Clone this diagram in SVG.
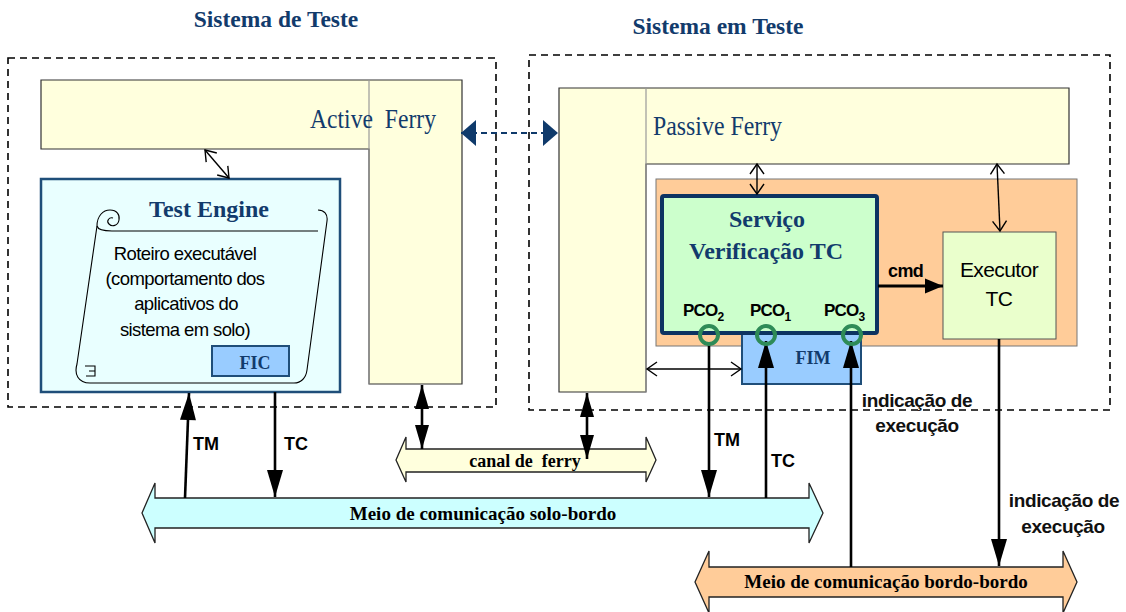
<svg xmlns="http://www.w3.org/2000/svg" width="1126" height="612" viewBox="0 0 1126 612">
<style>
.dash{fill:none;stroke:#000;stroke-width:1.6;stroke-dasharray:7 5}
.ferry{fill:#FFFFDD;stroke:#333;stroke-width:1.2}
.div{stroke:#999;stroke-width:1.2}
.ser{font-family:"Liberation Serif","Times New Roman",serif}
.sans{font-family:"Liberation Sans",Arial,sans-serif}
.blue{fill:#123B6C}
.bt{font-weight:bold}
.lbl{font-family:"Liberation Sans",Arial,sans-serif;font-weight:bold;font-size:18px;fill:#000}
.ind{font-family:"Liberation Sans",Arial,sans-serif;font-weight:bold;font-size:19px;letter-spacing:-0.4px;fill:#111;text-anchor:middle}
.thin{fill:none;stroke:#000;stroke-width:1.4;marker-start:url(#vh);marker-end:url(#vh)}
.thick{fill:none;stroke:#000;stroke-width:2.6}
.pco{fill:none;stroke:#2E8B57;stroke-width:4}
.bar{stroke:#222;stroke-width:1.3}
</style>
<defs>
<marker id="vh" markerUnits="userSpaceOnUse" markerWidth="12" markerHeight="16" refX="10" refY="7" orient="auto-start-reverse" overflow="visible"><path d="M0,0 L10,7 L0,14" fill="none" stroke="#000" stroke-width="1.4"/></marker>
<marker id="bh" markerUnits="userSpaceOnUse" markerWidth="28" markerHeight="18" refX="27" refY="8" orient="auto-start-reverse" overflow="visible"><path d="M0,0 L27,8 L0,16 z" fill="#000"/></marker>
<marker id="mh" markerUnits="userSpaceOnUse" markerWidth="26" markerHeight="16" refX="24" refY="7" orient="auto-start-reverse" overflow="visible"><path d="M0,0 L24,7 L0,14 z" fill="#000"/></marker>
<marker id="ch" markerUnits="userSpaceOnUse" markerWidth="20" markerHeight="16" refX="18" refY="7.5" orient="auto" overflow="visible"><path d="M0,0 L18,7.5 L0,15 z" fill="#000"/></marker>
<marker id="blh" markerUnits="userSpaceOnUse" markerWidth="16" markerHeight="28" refX="15" refY="13" orient="auto-start-reverse" overflow="visible"><path d="M0,0 L15,13 L0,26 z" fill="#0F3A6B"/></marker>
</defs>
<rect width="1126" height="612" fill="#fff"/>

<g id="titles">
<text class="ser bt blue" x="276" y="27" font-size="23.5" text-anchor="middle">Sistema de Teste</text>
<text class="ser bt blue" x="718" y="34" font-size="23.5" text-anchor="middle">Sistema em Teste</text>
</g>

<g id="sistema-de-teste">
<rect class="dash" x="8" y="58" width="488" height="349"/>
</g>
<g id="sistema-em-teste">
<rect class="dash" x="529" y="55" width="581" height="355"/>
</g>

<g id="active-ferry">
<polygon class="ferry" points="41,80 462,80 462,384 369,384 369,149 41,149"/>
<line class="div" x1="369" y1="80" x2="369" y2="384"/>
<text class="ser blue" x="310" y="128" font-size="27" textLength="126" lengthAdjust="spacingAndGlyphs" xml:space="preserve">Active  Ferry</text>
</g>

<g id="passive-ferry">
<polygon class="ferry" points="559,88 1069,88 1069,164 646,164 646,392 559,392"/>
<line class="div" x1="646" y1="88" x2="646" y2="392"/>
<text class="ser blue" x="653" y="135" font-size="27" textLength="129" lengthAdjust="spacingAndGlyphs">Passive Ferry</text>
</g>

<g id="test-engine">
<rect x="41" y="179" width="299" height="213" fill="#E9FFFF" stroke="#1F4E79" stroke-width="2.5"/>
<g fill="none" stroke="#000" stroke-width="1.1">
<path d="M97,226 C97,216 103,210 110,210 C117,210 120,215 119,220 C118,226 112,227 109,224 C106,221 109,217 113,218"/>
<path d="M97,226 C98,230 104,231 112,231 L318,231"/>
<path d="M318,210 C324,210 328,214 327,221 L307,370 C306,378 301,383 294,383 L90,383 C78,383 74,374 77,364 L97,226"/>
<path d="M85,366 L95,366 L95,376 L86,376 M89,371 L95,371"/>
</g>
<text class="ser bt blue" x="209" y="217" font-size="24" text-anchor="middle">Test Engine</text>
<g class="sans" font-size="18.5" letter-spacing="-0.6" text-anchor="middle" fill="#000">
<text x="185" y="260">Roteiro executável</text>
<text x="185" y="285">(comportamento dos</text>
<text x="186" y="310">aplicativos do</text>
<text x="185" y="336">sistema em solo)</text>
</g>
</g>

<g id="fic">
<rect x="212" y="346" width="77" height="30" fill="#99CCFF" stroke="#1F4E79" stroke-width="2"/>
<text class="ser bt blue" x="255" y="369" font-size="18" text-anchor="middle">FIC</text>
</g>

<g id="container-bordo">
<rect x="656" y="179" width="421" height="167" fill="#FFCC99" stroke="#777" stroke-width="1"/>
</g>

<g id="executor-tc">
<rect x="943" y="232" width="113" height="107" fill="#EAFFCC" stroke="#555" stroke-width="1"/>
<text class="sans" x="999" y="277" font-size="21" letter-spacing="-0.6" text-anchor="middle">Executor</text>
<text class="sans" x="999" y="306" font-size="21" letter-spacing="-0.6" text-anchor="middle">TC</text>
</g>

<g id="fim">
<rect x="742" y="330" width="119" height="54" fill="#99CCFF" stroke="#1F4E79" stroke-width="2"/>
<text class="ser bt blue" x="813" y="364" font-size="18" text-anchor="middle">FIM</text>
</g>

<g id="servico-verificacao-tc">
<rect x="662" y="196" width="215" height="137" rx="2" fill="#CCFFCC" stroke="#0D3361" stroke-width="4"/>
<text class="ser bt blue" x="767" y="227" font-size="24" text-anchor="middle">Serviço</text>
<text class="ser bt blue" x="766" y="259" font-size="24" text-anchor="middle">Verificação TC</text>
<g class="sans bt" font-size="17" letter-spacing="-0.8">
<text x="683" y="316">PCO<tspan font-size="12" dy="5" letter-spacing="0">2</tspan></text>
<text x="750" y="316">PCO<tspan font-size="12" dy="5" letter-spacing="0">1</tspan></text>
<text x="824" y="316">PCO<tspan font-size="12" dy="5" letter-spacing="0">3</tspan></text>
</g>
</g>

<g id="canal-de-ferry">
<path class="bar" fill="#FFFFDD" d="M396,460 L406,437 L406,449 L646,449 L646,437 L656,460 L646,482 L646,472 L406,472 L406,482 Z"/>
<text class="ser bt" x="525" y="467" font-size="18" text-anchor="middle" xml:space="preserve">canal de  ferry</text>
</g>

<g id="meio-solo-bordo">
<path class="bar" fill="#CCFFFF" d="M142,513 L155,483 L155,498 L809,498 L809,483 L823,513 L809,543 L809,528 L155,528 L155,543 Z"/>
<text class="ser bt" x="483" y="520" font-size="19" text-anchor="middle">Meio de comunicação solo-bordo</text>
</g>

<g id="meio-bordo-bordo">
<path class="bar" fill="#FFCC99" d="M695,582 L709,551 L709,567 L1063,567 L1063,551 L1077,582 L1063,613 L1063,597 L709,597 L709,613 Z"/>
<text class="ser bt" x="886" y="588" font-size="19" text-anchor="middle">Meio de comunicação bordo-bordo</text>
</g>

<g id="connectors">
<line x1="461" y1="133" x2="558" y2="133" stroke="#0F3A6B" stroke-width="2" stroke-dasharray="6 4" marker-start="url(#blh)" marker-end="url(#blh)"/>
<line class="thin" x1="205" y1="150" x2="229" y2="178"/>
<line class="thin" x1="757" y1="164" x2="757" y2="194"/>
<line class="thin" x1="997" y1="164" x2="1000" y2="231"/>
<line class="thin" x1="647" y1="369" x2="741" y2="369"/>
<line class="thick" x1="185" y1="498" x2="189" y2="393" marker-end="url(#bh)"/>
<line class="thick" x1="275" y1="392" x2="275" y2="497" marker-end="url(#bh)"/>
<line class="thick" x1="422" y1="385" x2="422" y2="449" marker-start="url(#mh)" marker-end="url(#mh)"/>
<line class="thick" x1="587" y1="393" x2="587" y2="459" marker-start="url(#mh)" marker-end="url(#mh)"/>
<line x1="878" y1="286" x2="943" y2="286" stroke="#000" stroke-width="3.2" marker-end="url(#ch)"/>
<line class="thick" x1="709" y1="344" x2="709" y2="497" marker-end="url(#bh)"/>
<line class="thick" x1="766" y1="498" x2="766" y2="341" marker-end="url(#bh)"/>
<line class="thick" x1="851" y1="567" x2="851" y2="341" marker-end="url(#bh)"/>
<line class="thick" x1="999" y1="339" x2="999" y2="566" marker-end="url(#bh)"/>
</g>

<g id="pcos">
<circle class="pco" cx="709" cy="335" r="9"/>
<circle class="pco" cx="766" cy="335" r="9"/>
<circle class="pco" cx="852" cy="335" r="9"/>
</g>

<g id="labels">
<text class="lbl" x="193" y="450">TM</text>
<text class="lbl" x="284" y="450">TC</text>
<text class="lbl" x="714" y="446">TM</text>
<text class="lbl" x="771" y="467">TC</text>
<text class="lbl" x="888" y="277" font-size="17" letter-spacing="-0.6">cmd</text>
<text class="ind" x="917" y="407">indicação de</text>
<text class="ind" x="917" y="432">execução</text>
<text class="ind" x="1064" y="507">indicação de</text>
<text class="ind" x="1063" y="533">execução</text>
</g>
</svg>
